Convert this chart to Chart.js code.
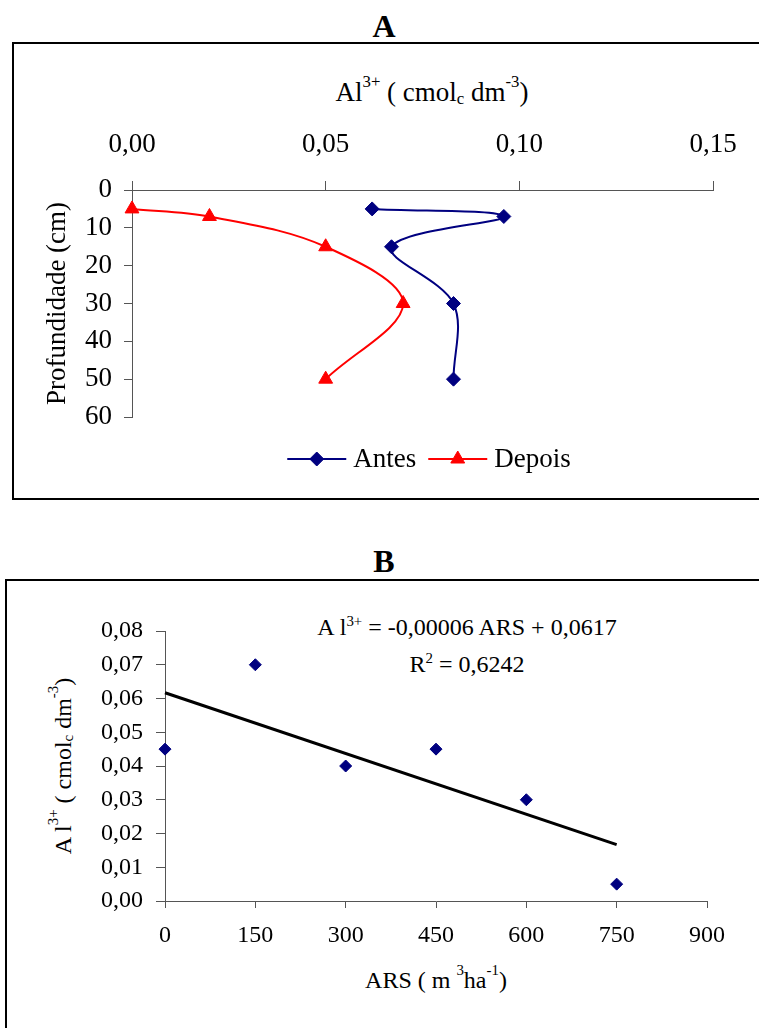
<!DOCTYPE html>
<html lang="pt">
<head>
<meta charset="utf-8">
<title>Al3+ - A e B</title>
<script src="https://cdn.jsdelivr.net/npm/chart.js@4.4.1/dist/chart.umd.min.js"></script>
<style>
  body { margin: 0; width: 759px; height: 1028px; overflow: hidden; position: relative; background: #fff;
         font-family: "Liberation Serif", "Times New Roman", serif; color: #000; }
  .panelTitle { position: absolute; left: 0; width: 768px; text-align: center; font-weight: bold;
                font-size: 32px; line-height: 32px; }
  .frame { position: absolute; border: 2px solid #000; }
  .chartWrap { position: absolute; left: 0; width: 759px; }
  .label { position: absolute; text-align: center; white-space: nowrap; }
  .sup, .sub { position: relative; font-size: 0.62em; line-height: 0; }
  .sup { top: -0.85em; }
  .sup.low { top: -0.6em; }
  .sub { top: 0.15em; }
</style>
</head>
<body>

<!-- ========================== A ========================== -->
<div class="panelTitle" style="top:10px;">A</div>
<div class="frame" style="left:12px; top:42px; width:800px; height:454px;"></div>
<div class="label" style="left:232px; top:79px; width:400px; font-size:27px; line-height:27px;">
  Al<span class="sup">3+</span> ( cmol<span class="sub">c</span> dm<span class="sup">-3</span>)
</div>
<div class="chartWrap" style="top:43px; height:456px;"><canvas id="chartA"></canvas></div>

<!-- ========================== B ========================== -->
<div class="panelTitle" style="top:545px;">B</div>
<div class="frame" style="left:5px; top:579px; width:800px; height:500px;"></div>
<div class="label" style="left:267px; top:615px; width:400px; font-size:24px; line-height:24px;">
  <span style="margin-right:5px">A</span>l<span class="sup low">3+</span> = -0,00006 ARS + 0,0617
</div>
<div class="label" style="left:267px; top:652px; width:400px; font-size:24px; line-height:24px;">
  R<span class="sup low">2</span> = 0,6242
</div>
<div class="label" style="left:-67px; top:754px; width:260px; font-size:24px; line-height:24px; transform:rotate(-90deg);">
  <span style="margin-right:5px">A</span>l<span class="sup">3+</span> ( cmol<span class="sub">c</span> dm<span class="sup">-3</span>)
</div>
<div class="label" style="left:236px; top:968px; width:400px; font-size:24px; line-height:24px;">
  ARS ( m <span class="sup">3</span>ha<span class="sup">-1</span>)
</div>
<div class="chartWrap" style="top:580px; height:448px;"><canvas id="chartB"></canvas></div>

<script>
// ==================================== DATA ============================================

// A - perfil: profundidade (cm) x Al3+ (cmolc dm-3)
const depthCm = [5, 7, 15, 30, 50];
const alAntes = [0.062, 0.096, 0.067, 0.083, 0.083];
const alDepois = [0.0, 0.02, 0.05, 0.07, 0.05];
const alTicksA = [0, 0.05, 0.1, 0.15];
const depthTicks = [0, 10, 20, 30, 40, 50, 60];

// B - Al3+ x dose de ARS (m3 ha-1)
const arsDose = [0, 150, 300, 450, 600, 750];
const alArs = [0.045, 0.07, 0.04, 0.045, 0.03, 0.005];
const trendArs = [0, 750];
const trendAl = [0.0617, 0.0167];
const arsTicks = [0, 150, 300, 450, 600, 750, 900];
const alTicksB = [0, 0.01, 0.02, 0.03, 0.04, 0.05, 0.06, 0.07, 0.08];

// ==================================== HELPERS ============================================

const SERIF = "'Liberation Serif', 'Times New Roman', serif";
Chart.defaults.font.family = SERIF;
Chart.defaults.color = "#000";

const toPoints = (xs, ys) => xs.map((x, i) => ({ x, y: ys[i] }));
const comma = (v) => Number(v).toFixed(2).replace(".", ",");
const fixedTicks = (list) => (scale) => {
  scale.ticks = list.map((value) => ({ value }));
};

// legend with a line through the marker (Excel style)
const lineLegend = {
  id: "lineLegend",
  afterDraw(chart, args, opts) {
    const { ctx } = chart;
    ctx.save();
    ctx.font = `${opts.size}px ${SERIF}`;
    const items = chart.data.datasets.map((ds) => ({
      ds,
      w: opts.lineLength + opts.gap + ctx.measureText(ds.label).width,
    }));
    const total = items.reduce((s, it) => s + it.w, 0) + opts.spacing * (items.length - 1);
    let x = opts.centerX - total / 2;
    items.forEach(({ ds, w }) => {
      ctx.strokeStyle = ds.borderColor;
      ctx.lineWidth = ds.borderWidth;
      ctx.beginPath();
      ctx.moveTo(x, opts.y);
      ctx.lineTo(x + opts.lineLength, opts.y);
      ctx.stroke();
      ctx.fillStyle = ds.backgroundColor;
      ctx.lineWidth = 1;
      Chart.helpers.drawPoint(
        ctx,
        { pointStyle: ds.pointStyle, radius: ds.pointRadius, rotation: 0, borderWidth: 1 },
        x + opts.lineLength / 2,
        opts.y
      );
      ctx.fillStyle = "#000";
      ctx.textBaseline = "alphabetic";
      ctx.fillText(ds.label, x + opts.lineLength + opts.gap, opts.y + opts.textDrop);
      x += w + opts.spacing;
    });
    ctx.restore();
  },
};

function axisStyle(tickLength) {
  return {
    grid: { drawOnChartArea: false, drawTicks: true, tickLength: tickLength, color: "#555" },
    border: { display: true, color: "#555", width: 1 },
  };
}

// ==================================== CHART A ============================================

new Chart(document.getElementById("chartA"), {
  type: "scatter",
  data: {
    datasets: [
      {
        label: "Antes",
        data: toPoints(alAntes, depthCm),
        showLine: true,
        tension: 0.35,
        borderColor: "#000080",
        backgroundColor: "#000080",
        borderWidth: 2,
        pointStyle: "rectRot",
        pointRadius: 7,
        pointBorderWidth: 1,
        clip: false,
      },
      {
        label: "Depois",
        data: toPoints(alDepois, depthCm),
        showLine: true,
        tension: 0.35,
        borderColor: "#FF0000",
        backgroundColor: "#FF0000",
        borderWidth: 2,
        pointStyle: "triangle",
        pointRadius: 8,
        pointBorderWidth: 1,
        clip: false,
      },
    ],
  },
  options: {
    responsive: true,
    maintainAspectRatio: false,
    animation: false,
    layout: { padding: { left: 0, top: 0, right: 46, bottom: 82 } },
    plugins: {
      legend: { display: false },
      tooltip: { enabled: false },
      lineLegend: { centerX: 429, y: 416, textDrop: 8, size: 27, lineLength: 59, gap: 7, spacing: 12 },
    },
    scales: {
      x: {
        type: "linear",
        position: "top",
        min: 0,
        max: 0.15,
        afterBuildTicks: fixedTicks(alTicksA),
        afterFit: (s) => { s.height = 147; },
        ticks: { callback: comma, padding: 20, font: { size: 27 }, maxRotation: 0, autoSkip: false },
        ...axisStyle(9),
      },
      y: {
        type: "linear",
        reverse: true,
        min: 0,
        max: 60,
        afterBuildTicks: fixedTicks(depthTicks),
        afterFit: (s) => { s.width = 132; },
        ticks: { padding: 12, font: { size: 27 }, autoSkip: false },
        title: { display: true, text: "Profundidade (cm)", font: { size: 27 }, padding: { top: 42, bottom: 0 } },
        ...axisStyle(8),
      },
    },
  },
  plugins: [lineLegend],
});

// ==================================== CHART B ============================================

new Chart(document.getElementById("chartB"), {
  type: "scatter",
  data: {
    datasets: [
      {
        label: "Al3+",
        data: toPoints(arsDose, alArs),
        showLine: false,
        backgroundColor: "#000080",
        borderColor: "#000080",
        pointStyle: "rectRot",
        pointRadius: 6,
        pointBorderWidth: 1,
        clip: false,
      },
      {
        label: "Linear",
        data: toPoints(trendArs, trendAl),
        showLine: true,
        borderColor: "#000",
        borderWidth: 3,
        pointRadius: 0,
        clip: false,
      },
    ],
  },
  options: {
    responsive: true,
    maintainAspectRatio: false,
    animation: false,
    layout: { padding: { left: 0, top: 51, right: 52, bottom: 0 } },
    plugins: {
      legend: { display: false },
      tooltip: { enabled: false },
    },
    scales: {
      x: {
        type: "linear",
        min: 0,
        max: 900,
        afterBuildTicks: fixedTicks(arsTicks),
        afterFit: (s) => { s.height = 127; },
        ticks: { padding: 13, font: { size: 24 }, maxRotation: 0, autoSkip: false },
        ...axisStyle(7),
      },
      y: {
        type: "linear",
        min: 0,
        max: 0.08,
        afterBuildTicks: fixedTicks(alTicksB),
        afterFit: (s) => { s.width = 165; },
        ticks: { callback: comma, padding: 13, font: { size: 24 }, autoSkip: false },
        ...axisStyle(9),
      },
    },
  },
});
</script>
</body>
</html>
